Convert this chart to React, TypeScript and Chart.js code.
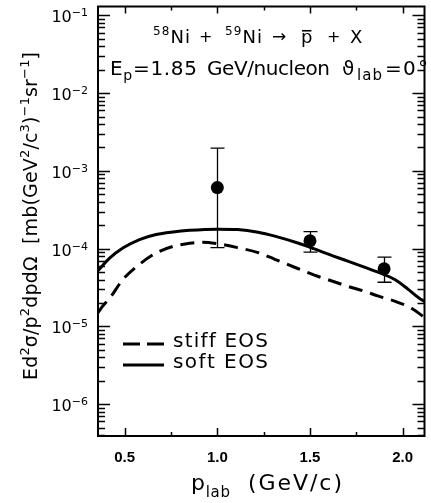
import React, { useEffect, useRef } from "react";
import { Chart, registerables } from "chart.js";
Chart.register(...registerables);

// soft EOS (solid curve)
const softP = [0.356, 0.42, 0.49, 0.58, 0.67, 0.76, 0.85, 1.0, 1.11, 1.22, 1.31, 1.43, 1.52, 1.61, 1.70, 1.79, 1.87, 1.96, 2.03, 2.09, 2.118];
const softV = [5.2e-5, 7.6e-5, 1.02e-4, 1.31e-4, 1.52e-4, 1.64e-4, 1.72e-4, 1.78e-4, 1.76e-4, 1.63e-4, 1.45e-4, 1.19e-4, 1.0e-4, 8.3e-5, 6.97e-5, 5.82e-5, 4.95e-5, 3.98e-5, 3.0e-5, 2.3e-5, 2.1e-5];
// stiff EOS (dashed curve)
const stiffP = [0.356, 0.376, 0.42, 0.49, 0.58, 0.67, 0.76, 0.85, 0.92, 1.0, 1.11, 1.22, 1.31, 1.43, 1.52, 1.61, 1.70, 1.79, 1.87, 1.96, 2.05, 2.118];
const stiffV = [1.5e-5, 1.76e-5, 2.32e-5, 4.0e-5, 6.3e-5, 8.8e-5, 1.07e-4, 1.17e-4, 1.21e-4, 1.16e-4, 1.03e-4, 8.9e-5, 7.3e-5, 5.6e-5, 4.6e-5, 3.9e-5, 3.3e-5, 2.85e-5, 2.45e-5, 2.1e-5, 1.7e-5, 1.3e-5];
// measured points
const dataP = [1.0, 1.5, 1.9];
const dataV = [6.1e-4, 1.26e-4, 5.5e-5];
const errLo = [1.03e-4, 9.0e-5, 3.7e-5];
const errHi = [1.96e-3, 1.66e-4, 7.8e-5];
// axes
const xMajor = [0.5, 1.0, 1.5, 2.0];
const xMajorLabels = ["0.5", "1.0", "1.5", "2.0"];
const xMinor = [0.75, 1.25, 1.75];
const yDecades = [-6, -5, -4, -3, -2, -1];
const X_MIN = 0.356, X_MAX = 2.118, Y_MIN = 3.9e-7, Y_MAX = 0.13;

const DJ = '"DejaVu Sans", sans-serif';
const LIB = '"Liberation Sans", Arial, sans-serif';

type Seg = { t: string; size: number; dy?: number; over?: boolean; weight?: string; fam?: string };

function setFont(ctx: CanvasRenderingContext2D, s: Seg) {
  ctx.font = `${s.weight || "normal"} ${s.size}px ${s.fam || DJ}`;
}
function natural(ctx: CanvasRenderingContext2D, segs: Seg[]) {
  let w = 0, n = 0;
  for (const s of segs) {
    setFont(ctx, s);
    for (const ch of Array.from(s.t)) { w += ctx.measureText(ch).width; n++; }
  }
  return { w, n };
}
function drawSegs(ctx: CanvasRenderingContext2D, segs: Seg[], x0: number, base: number, x1?: number) {
  const { w, n } = natural(ctx, segs);
  const sp = x1 !== undefined && n > 1 ? (x1 - x0 - w) / (n - 1) : 0;
  let x = x0;
  ctx.textBaseline = "alphabetic";
  ctx.textAlign = "left";
  for (const s of segs) {
    setFont(ctx, s);
    for (const ch of Array.from(s.t)) {
      const cw = ctx.measureText(ch).width;
      ctx.fillText(ch, x, base + (s.dy || 0));
      if (s.over) {
        ctx.save();
        ctx.lineWidth = 1.6;
        ctx.beginPath();
        const oy = base - s.size * 0.68;
        ctx.moveTo(x + 1, oy);
        ctx.lineTo(x + cw - 1, oy);
        ctx.stroke();
        ctx.restore();
      }
      x += cw + sp;
    }
  }
  return x;
}

export default function App() {
  const ref = useRef<HTMLCanvasElement>(null);
  useEffect(() => {
    const canvas = ref.current!;
    const overlay = {
      id: "overlay",
      beforeDatasetsDraw(chart: any) {
        const ctx: CanvasRenderingContext2D = chart.ctx;
        const xs = chart.scales.x, ys = chart.scales.y;
        ctx.save();
        ctx.strokeStyle = "#000";
        ctx.lineWidth = 1.3;
        dataP.forEach((p, i) => {
          const px = Math.round(xs.getPixelForValue(p)) + 0.5;
          const yl = ys.getPixelForValue(errLo[i]);
          const yh = ys.getPixelForValue(errHi[i]);
          ctx.beginPath();
          ctx.moveTo(px, yl); ctx.lineTo(px, yh);
          ctx.moveTo(px - 7, yl); ctx.lineTo(px + 7, yl);
          ctx.moveTo(px - 7, yh); ctx.lineTo(px + 7, yh);
          ctx.stroke();
        });
        ctx.restore();
      },
      afterDraw(chart: any) {
        const ctx: CanvasRenderingContext2D = chart.ctx;
        const a = chart.chartArea;
        const xs = chart.scales.x, ys = chart.scales.y;
        ctx.save();
        ctx.strokeStyle = "#000";
        ctx.fillStyle = "#000";
        ctx.lineWidth = 2;
        ctx.strokeRect(a.left, a.top, a.right - a.left, a.bottom - a.top);
        ctx.lineWidth = 1.5;
        ctx.beginPath();
        for (let d = -7; d <= 0; d++) {
          for (let m = 1; m <= 9; m++) {
            const v = m * Math.pow(10, d);
            if (v < Y_MIN || v > Y_MAX) continue;
            const py = Math.round(ys.getPixelForValue(v)) + 0.5;
            const len = m === 1 ? 12 : 7;
            ctx.moveTo(a.left, py); ctx.lineTo(a.left + len, py);
            ctx.moveTo(a.right, py); ctx.lineTo(a.right - len, py);
          }
        }
        for (const v of xMajor) {
          const px = Math.round(xs.getPixelForValue(v)) + 0.5;
          ctx.moveTo(px, a.bottom); ctx.lineTo(px, a.bottom - 8);
          ctx.moveTo(px, a.top); ctx.lineTo(px, a.top + 7);
        }
        for (const v of xMinor) {
          const px = Math.round(xs.getPixelForValue(v)) + 0.5;
          ctx.moveTo(px, a.bottom); ctx.lineTo(px, a.bottom - 4);
          ctx.moveTo(px, a.top); ctx.lineTo(px, a.top + 4);
        }
        ctx.stroke();

        // y tick labels
        for (const d of yDecades) {
          const py = ys.getPixelForValue(Math.pow(10, d));
          const segs: Seg[] = [
            { t: "10", size: 16 },
            { t: "\u2212" + String(-d), size: 11, dy: -6 },
          ];
          const { w } = natural(ctx, segs);
          drawSegs(ctx, segs, 88 - w, py + 7);
        }
        // x tick labels
        xMajor.forEach((v, i) => {
          const px = xs.getPixelForValue(v);
          const segs: Seg[] = [{ t: xMajorLabels[i], size: 15, weight: "bold", fam: LIB }];
          const { w } = natural(ctx, segs);
          drawSegs(ctx, segs, px - w / 2, 462);
        });

        // x axis title
        drawSegs(ctx, [{ t: "p", size: 22 }, { t: "lab", size: 15, dy: 7 }], 191, 490, 230);
        drawSegs(ctx, [{ t: "(GeV/c)", size: 22 }], 248, 490, 342);

        // y axis title (rotated)
        ctx.save();
        ctx.translate(37, 380);
        ctx.rotate(-Math.PI / 2);
        drawSegs(ctx, [
          { t: "Ed", size: 19 },
          { t: "2", size: 13, dy: -8 },
          { t: "\u03C3/p", size: 19 },
          { t: "2", size: 13, dy: -8 },
          { t: "dpd\u03A9  [mb(GeV", size: 19 },
          { t: "2", size: 13, dy: -8 },
          { t: "/c", size: 19 },
          { t: "3", size: 13, dy: -8 },
          { t: ")", size: 19 },
          { t: "\u22121", size: 13, dy: -8 },
          { t: "sr", size: 19 },
          { t: "\u22121", size: 13, dy: -8 },
          { t: "]", size: 19 },
        ], 0, 0, 328);
        ctx.restore();

        // reaction title
        drawSegs(ctx, [{ t: "58", size: 12, dy: -8 }, { t: "Ni", size: 18 }], 153, 43, 190);
        drawSegs(ctx, [{ t: "+", size: 16 }], 199, 42);
        drawSegs(ctx, [{ t: "59", size: 12, dy: -8 }, { t: "Ni", size: 18 }], 225, 43, 262);
        drawSegs(ctx, [{ t: "\u2192", size: 17 }], 272, 42);
        drawSegs(ctx, [{ t: "p", size: 18, over: true }], 301, 43);
        drawSegs(ctx, [{ t: "+", size: 16 }], 327, 42);
        drawSegs(ctx, [{ t: "X", size: 18 }], 350, 43);
        // second line
        drawSegs(ctx, [{ t: "E", size: 20 }, { t: "p", size: 14, dy: 5 }, { t: "=1.85", size: 20 }], 110, 75, 197);
        drawSegs(ctx, [{ t: "GeV/nucleon", size: 20 }], 207, 75, 330);
        drawSegs(ctx, [{ t: "\u03D1", size: 20 }], 342, 75);
        drawSegs(ctx, [{ t: "lab", size: 15 }], 357, 80, 382);
        drawSegs(ctx, [{ t: "=", size: 20 }], 385, 75);
        drawSegs(ctx, [{ t: "0", size: 20 }], 403, 75);
        drawSegs(ctx, [{ t: "\u00B0", size: 20 }], 418, 75);

        // legend
        ctx.lineWidth = 3;
        ctx.setLineDash([17, 7]);
        ctx.beginPath();
        ctx.moveTo(123, 344); ctx.lineTo(164, 344);
        ctx.stroke();
        ctx.setLineDash([]);
        ctx.beginPath();
        ctx.moveTo(123, 365); ctx.lineTo(164, 365);
        ctx.stroke();
        drawSegs(ctx, [{ t: "stiff EOS", size: 20 }], 173, 347, 268);
        drawSegs(ctx, [{ t: "soft EOS", size: 20 }], 173, 368, 268);
        ctx.restore();
      },
    };

    const chart = new Chart(canvas, {
      type: "line",
      data: {
        datasets: [
          {
            label: "soft EOS",
            data: softP.map((p, i) => ({ x: p, y: softV[i] })),
            borderColor: "#000",
            borderWidth: 3,
            pointRadius: 0,
            cubicInterpolationMode: "monotone",
            fill: false,
          },
          {
            label: "stiff EOS",
            data: stiffP.map((p, i) => ({ x: p, y: stiffV[i] })),
            borderColor: "#000",
            borderWidth: 3,
            borderDash: [14, 8],
            pointRadius: 0,
            cubicInterpolationMode: "monotone",
            fill: false,
          },
          {
            type: "scatter",
            label: "data",
            data: dataP.map((p, i) => ({ x: p, y: dataV[i] })),
            backgroundColor: "#000",
            borderColor: "#000",
            borderWidth: 0,
            pointRadius: 6.5,
            showLine: false,
          } as any,
        ],
      },
      options: {
        responsive: false,
        animation: false,
        devicePixelRatio: 1,
        events: [],
        layout: { padding: { left: 98, top: 3, right: 2, bottom: 67 } },
        plugins: { legend: { display: false }, tooltip: { enabled: false } },
        scales: {
          x: { type: "linear", min: X_MIN, max: X_MAX, display: false },
          y: { type: "logarithmic", min: Y_MIN, max: Y_MAX, display: false },
        },
      },
      plugins: [overlay],
    } as any);
    return () => chart.destroy();
  }, []);
  return (
    <div style={{ position: "absolute", left: 0, top: 0, width: 431, height: 503, background: "#fff" }}>
      <canvas ref={ref} width={431} height={503} style={{ display: "block", width: 431, height: 503 }} />
    </div>
  );
}
